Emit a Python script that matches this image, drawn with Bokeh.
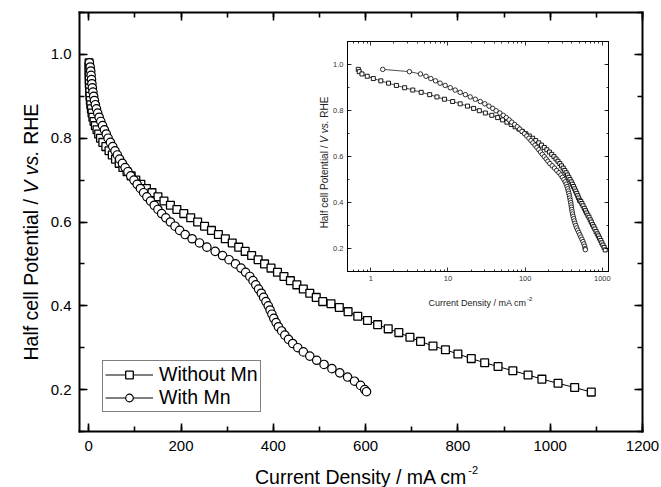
import math
from bokeh.plotting import figure
from bokeh.models import (Range1d, LogScale, LinearAxis, SingleIntervalTicker, FixedTicker,
                          PrintfTickFormatter, CustomJSTickFormatter, Legend, LegendItem, Label)
from bokeh.embed import file_html
from bokeh.resources import INLINE

# ---------------- data ----------------
without_V = [0.98, 0.97, 0.96, 0.95, 0.94, 0.93, 0.92, 0.91, 0.90, 0.89,
             0.88, 0.87, 0.86, 0.85, 0.84, 0.83, 0.82, 0.81, 0.80, 0.79,
             0.78, 0.77, 0.76, 0.75, 0.74, 0.73, 0.72, 0.71, 0.70, 0.69,
             0.68, 0.67, 0.66, 0.65, 0.64, 0.63, 0.62, 0.61, 0.60, 0.59,
             0.58, 0.57, 0.56, 0.55, 0.54, 0.53, 0.52, 0.51, 0.50, 0.49,
             0.48, 0.47, 0.46, 0.45, 0.44, 0.43, 0.42, 0.41, 0.405, 0.396,
             0.386, 0.375, 0.365, 0.355, 0.345, 0.336, 0.325, 0.315, 0.304, 0.295,
             0.285, 0.274, 0.264, 0.255, 0.245, 0.235, 0.225, 0.215, 0.205, 0.194]
without_I = [0.69, 0.71, 0.77, 0.90, 1.08, 1.35, 1.70, 2.15, 2.75, 3.5,
             4.5, 5.8, 7.2, 9.0, 11.5, 14.4, 17.9, 21.5, 25.5, 30.5,
             37, 44, 51, 58, 66, 74, 83, 92, 102, 113,
             125, 137, 150, 163, 177, 191, 206, 221, 236, 251,
             266, 281, 296, 311, 325, 339, 353, 367, 381, 395,
             409, 423, 437, 451, 465, 479, 493, 507, 525, 543,
             562, 583, 604, 626, 649, 672, 696, 719, 746, 773,
             800, 829, 858, 887, 919, 952, 982, 1017, 1053, 1089]

with_V = [0.98, 0.97, 0.96, 0.95, 0.94, 0.93, 0.92, 0.91, 0.90, 0.89,
          0.88, 0.87, 0.86, 0.85, 0.84, 0.83, 0.82, 0.81, 0.80, 0.79,
          0.78, 0.77, 0.76, 0.75, 0.74, 0.73, 0.72, 0.71, 0.70, 0.69,
          0.68, 0.67, 0.66, 0.65, 0.64, 0.63, 0.62, 0.61, 0.60, 0.59,
          0.58, 0.57, 0.56, 0.55, 0.54, 0.53, 0.52, 0.51, 0.50, 0.49,
          0.48, 0.47, 0.46, 0.45, 0.44, 0.43, 0.42, 0.41, 0.40, 0.39,
          0.38, 0.37, 0.36, 0.35, 0.34, 0.33, 0.32, 0.31, 0.30, 0.29,
          0.28, 0.27, 0.26, 0.25, 0.24, 0.23, 0.22, 0.21, 0.20, 0.195]
with_I = [1.43, 3.17, 4.4, 5.2, 6.0, 6.9, 7.9, 9.2, 10.7, 12.4,
          14.4, 16.8, 19.4, 22.6, 26.2, 30.0, 34.0, 38, 42, 47,
          52, 57, 62, 67, 73, 79, 85, 91, 98, 105,
          112, 119, 126, 134, 142, 150, 158, 167, 177, 187,
          197, 209, 224, 240, 256, 274, 290, 304, 318, 330,
          340, 349, 356, 362, 368, 374, 379, 384, 389, 393,
          397, 401, 406, 411, 418, 425, 433, 442, 453, 465,
          479, 494, 510, 527, 544, 561, 576, 589, 598, 602]

x_ticks_inset = [1, 10, 100, 1000]
x_minor_inset = [0.5, 0.6, 0.7, 0.8, 0.9] + [2, 3, 4, 5, 6, 7, 8, 9] + \
                [20, 30, 40, 50, 60, 70, 80, 90] + [200, 300, 400, 500, 600, 700, 800, 900]

# ---------------- layout constants (picture px) ----------------
FONT = "Liberation Sans"
W, H = 661, 487
FL, FR, FT, FB = 79, 642, 12, 431          # visible main frame
IL, IR, IT, IB = 347, 608, 41.3, 271       # visible inset frame
X0, X1, Y0, Y1 = -20, 1200, 0.1, 1.1
IX0, IX1, IY0, IY1 = 0.5, 1200, 0.1, 1.1

kx = (X1 - X0) / (FR - FL)
ky = (Y1 - Y0) / (FB - FT)
x_start, x_end = X0 - FL * kx, X1 + (W - FR) * kx
y_end, y_start = Y1 + FT * ky, Y0 - (H - FB) * ky

def mx(px):  # px -> main data x
    return x_start + px * kx

def my(py):  # py -> main data y
    return y_end - py * ky

dec = (IR - IL) / (math.log10(IX1) - math.log10(IX0))
ix_start = 10 ** (math.log10(IX0) - IL / dec)
ix_end = 10 ** (math.log10(IX1) + (W - IR) / dec)
per = (IB - IT) / (IY1 - IY0)
iy_end = IY1 + IT / per
iy_start = IY0 - (H - IB) / per

p = figure(width=W, height=H, output_backend="svg", toolbar_location=None,
           x_range=Range1d(x_start, x_end), y_range=Range1d(y_start, y_end),
           x_axis_location=None, y_axis_location=None,
           min_border_left=0, min_border_right=0, min_border_top=0, min_border_bottom=0)
p.extra_x_ranges = {"ix": Range1d(ix_start, ix_end)}
p.extra_x_scales = {"ix": LogScale()}
p.extra_y_ranges = {"iy": Range1d(iy_start, iy_end)}
p.background_fill_color = "white"
p.border_fill_color = "white"
p.outline_line_color = None
for g in p.grid:
    g.visible = False

blank = CustomJSTickFormatter(code="return ''")

def style(ax, lw, tick_in, minor_in, fs, standoff, color="black"):
    ax.axis_line_width = lw
    ax.axis_line_color = "black"
    ax.axis_line_cap = "square"
    ax.major_tick_line_color = "black"
    ax.minor_tick_line_color = "black"
    ax.major_tick_line_width = lw * 0.8
    ax.minor_tick_line_width = lw * 0.8
    ax.major_tick_in = tick_in
    ax.major_tick_out = 0
    ax.minor_tick_in = minor_in
    ax.minor_tick_out = 0
    ax.major_label_text_font = FONT
    ax.major_label_text_font_size = fs
    ax.major_label_text_color = color
    ax.major_label_standoff = standoff

# ---- main axes (drawn at fixed locations) ----
def main_x_ticker():
    return SingleIntervalTicker(interval=200, num_minor_ticks=2)

def main_y_ticker():
    return SingleIntervalTicker(interval=0.2, num_minor_ticks=2)

xb = LinearAxis(ticker=main_x_ticker(), fixed_location=Y0, bounds=(X0, X1))
style(xb, 2, 8, 5, "15px", 9)
p.add_layout(xb, "below")
xa = LinearAxis(ticker=main_x_ticker(), formatter=blank, fixed_location=Y1, bounds=(X0, X1))
style(xa, 2, 8, 5, "1px", 0)
p.add_layout(xa, "above")
yl = LinearAxis(ticker=main_y_ticker(), formatter=PrintfTickFormatter(format="%.1f"),
                fixed_location=X0, bounds=(Y0, Y1))
style(yl, 2, 8, 5, "15px", 8)
p.add_layout(yl, "left")
yr = LinearAxis(ticker=main_y_ticker(), formatter=blank, fixed_location=X1, bounds=(Y0, Y1))
style(yr, 2, 8, 5, "1px", 0)
p.add_layout(yr, "right")

# ---- inset axes ----
ib = LinearAxis(x_range_name="ix", y_range_name="iy", fixed_location=IY0, bounds=(IX0, IX1),
                ticker=FixedTicker(ticks=x_ticks_inset, minor_ticks=x_minor_inset),
                formatter=PrintfTickFormatter(format="%d"))
style(ib, 1, 4, 2, "7.5px", 4, "#333333")
p.add_layout(ib, "below")
ia = LinearAxis(x_range_name="ix", y_range_name="iy", fixed_location=IY1, bounds=(IX0, IX1),
                ticker=FixedTicker(ticks=x_ticks_inset, minor_ticks=x_minor_inset),
                formatter=blank)
style(ia, 1, 4, 2, "1px", 0)
p.add_layout(ia, "above")
il = LinearAxis(x_range_name="ix", y_range_name="iy", fixed_location=IX0, bounds=(IY0, IY1),
                ticker=SingleIntervalTicker(interval=0.2, num_minor_ticks=2),
                formatter=PrintfTickFormatter(format="%.1f"))
style(il, 1, 4, 2, "7.5px", 4, "#333333")
p.add_layout(il, "left")
ir = LinearAxis(x_range_name="ix", y_range_name="iy", fixed_location=IX1, bounds=(IY0, IY1),
                ticker=SingleIntervalTicker(interval=0.2, num_minor_ticks=2),
                formatter=blank)
style(ir, 1, 4, 2, "1px", 0)
p.add_layout(ir, "right")

# ---- main data ----
r1l = p.line(without_I, without_V, line_color="black", line_width=1)
r1s = p.scatter(without_I, without_V, marker="square", size=7.8, fill_color="white",
                line_color="black", line_width=1.3)
r2l = p.line(with_I, with_V, line_color="black", line_width=1)
r2s = p.scatter(with_I, with_V, marker="circle", size=8.4, fill_color="white",
                line_color="black", line_width=1.2)

# ---- inset data ----
p.line(without_I, without_V, line_color="black", line_width=0.7, x_range_name="ix", y_range_name="iy")
p.scatter(without_I, without_V, marker="square", size=4, fill_color="white", line_color="black",
          line_width=0.9, x_range_name="ix", y_range_name="iy")
p.line(with_I, with_V, line_color="black", line_width=0.7, x_range_name="ix", y_range_name="iy")
p.scatter(with_I, with_V, marker="circle", size=4.5, fill_color="white", line_color="black",
          line_width=0.8, x_range_name="ix", y_range_name="iy")

# ---- legend ----
legend = Legend(items=[LegendItem(label="Without Mn", renderers=[r1l, r1s]),
                       LegendItem(label="With Mn", renderers=[r2l, r2s])],
                location=(102, H - 412), orientation="vertical", margin=0, padding=2,
                glyph_width=48, glyph_height=19, label_height=19, label_standoff=6, spacing=0,
                border_line_color="black", border_line_width=1,
                background_fill_color="white", background_fill_alpha=1.0,
                label_text_font=FONT, label_text_font_size="19.5px", label_text_color="black")
p.add_layout(legend)

# ---- axis titles (text as real text) ----
def add_label(x, y, text, size, angle=0.0, style_="normal", color="black"):
    p.add_layout(Label(x=x, y=y, text=text, angle=angle, text_font=FONT, text_font_size=f"{size}px",
                       text_font_style=style_, text_color=color, text_align="left",
                       text_baseline="alphabetic"))

# main y title
fs = 19.5
ys = 360
add_label(mx(30), my(ys), "Half cell Potential /", fs, math.pi / 2)
add_label(mx(30), my(ys - 8.559 * fs), "V vs.", fs, math.pi / 2, "italic")
add_label(mx(30), my(ys - (8.559 + 2.501) * fs), "RHE", fs, math.pi / 2)
# main x title
xs = 254.5
add_label(mx(xs), my(476.5), "Current Density / mA cm", fs)
add_label(mx(xs + 10.891 * fs + 1), my(469), "-2", 11)

# inset titles
ifs = 10
iys = 162 + 13.171 * ifs / 2
add_label(mx(323.5), my(iys), "Half cell Potential /", ifs, math.pi / 2, color="#222222")
add_label(mx(323.5), my(iys - 8.559 * ifs), "V vs.", ifs, math.pi / 2, "italic", "#222222")
add_label(mx(323.5), my(iys - (8.559 + 2.501) * ifs), "RHE", ifs, math.pi / 2, color="#222222")
ixfs = 9
ixs = 477 - 10.891 * ixfs / 2
add_label(mx(ixs), my(302), "Current Density / mA cm", ixfs, color="#222222")
add_label(mx(ixs + 10.891 * ixfs + 0.5), my(298), "-2", 6, color="#222222")

open("out.html", "w").write(file_html(p, INLINE))
